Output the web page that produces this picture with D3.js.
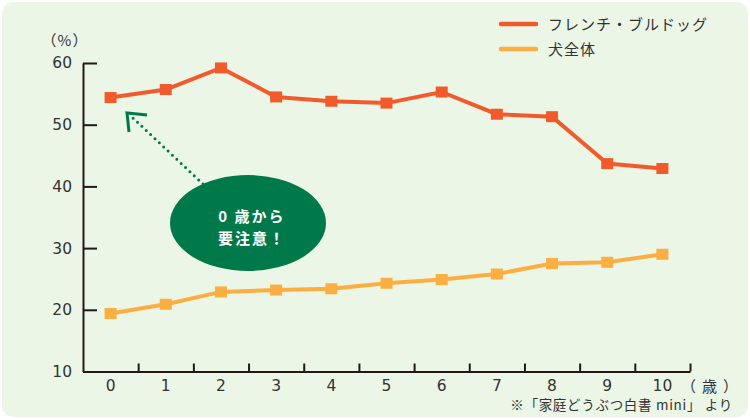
<!DOCTYPE html>
<html>
<head>
<meta charset="utf-8">
<script src="https://cdn.jsdelivr.net/npm/d3@7"></script>
<style>
  body { margin: 0; background: #fff; }
  svg text { font-family: "Noto Sans CJK JP", "DejaVu Sans", sans-serif; }
</style>
</head>
<body>
<div id="chart"></div>
<script>
const ages = ["0", "1", "2", "3", "4", "5", "6", "7", "8", "9", "10"];
const frenchBulldog = [54.4, 55.7, 59.2, 54.5, 53.8, 53.5, 55.3, 51.7, 51.3, 43.7, 42.9];
const allDogs = [19.4, 20.9, 22.9, 23.2, 23.4, 24.3, 24.9, 25.8, 27.5, 27.7, 29.0];
const yTicks = [10, 20, 30, 40, 50, 60];
const seriesNames = ["フレンチ・ブルドッグ", "犬全体"];

const colors = ["#f15a2b", "#fbae42"];

const svg = d3.select("#chart")
    .append("svg")
    .attr("width", 750)
    .attr("height", 419);

// background panel
svg.append("rect")
    .attr("x", 2).attr("y", 2)
    .attr("width", 746).attr("height", 415)
    .attr("rx", 12)
    .style("fill", "#ebf6e7");

const x = d3.scaleBand().domain(ages).range([83, 690]);
const y = d3.scaleLinear().domain([10, 60]).range([371.5, 63]);

// y axis
const yAxis = svg.append("g")
    .attr("transform", "translate(83,0)")
    .call(d3.axisLeft(y).tickValues(yTicks).tickSizeInner(-14).tickSizeOuter(0).tickPadding(11));
yAxis.select(".domain").style("stroke", "#231815").style("stroke-width", 2);
yAxis.selectAll(".tick line").style("stroke", "#231815").style("stroke-width", 2);
yAxis.selectAll(".tick text")
    .style("font-size", "15.5px")
    .style("fill", "#333")
    .style("font-family", "'DejaVu Sans', sans-serif");

svg.append("text")
    .attr("x", 65).attr("y", 46)
    .attr("text-anchor", "middle")
    .style("font-size", "15px")
    .style("letter-spacing", "1px")
    .style("fill", "#333")
    .text("（%）");

// x axis: boundary ticks
const xb = d3.scaleLinear().domain([0, ages.length]).range([83, 690]);
const xTickAxis = svg.append("g")
    .attr("transform", "translate(0,371.5)")
    .call(d3.axisBottom(xb).tickValues(d3.range(1, ages.length + 1)).tickSizeInner(-8).tickSizeOuter(0).tickFormat(""));
xTickAxis.select(".domain").style("stroke", "#231815").style("stroke-width", 2);
xTickAxis.selectAll(".tick line").style("stroke", "#231815").style("stroke-width", 2);

// x labels
const xAxis = svg.append("g")
    .attr("transform", "translate(0,371.5)")
    .call(d3.axisBottom(x).tickSize(0).tickPadding(8.5));
xAxis.select(".domain").remove();
xAxis.selectAll(".tick text")
    .style("font-size", "15.5px")
    .style("fill", "#333")
    .style("font-family", "'DejaVu Sans', sans-serif");

svg.append("text")
    .attr("x", 681).attr("y", 392)
    .style("font-size", "15px")
    .style("letter-spacing", "6px")
    .style("fill", "#333")
    .text("（歳）");

svg.append("text")
    .attr("x", 733).attr("y", 410)
    .attr("text-anchor", "end")
    .style("font-size", "13.5px")
    .style("letter-spacing", "0.7px")
    .style("fill", "#333")
    .text("※「家庭どうぶつ白書 mini」 より");

// lines and markers
const line = d3.line()
    .x((d, i) => x(ages[i]) + x.bandwidth() / 2)
    .y((d) => y(d));

[allDogs, frenchBulldog].forEach((vals, k) => {
    const c = k === 0 ? colors[1] : colors[0];
    svg.append("path")
        .attr("d", line(vals))
        .style("fill", "none")
        .style("stroke", c)
        .style("stroke-width", 4);
    svg.selectAll(null)
        .data(vals)
        .enter()
        .append("rect")
        .attr("x", (d, i) => x(ages[i]) + x.bandwidth() / 2 - 6)
        .attr("y", (d) => y(d) - 5.5)
        .attr("width", 12)
        .attr("height", 11)
        .style("fill", c);
});

// legend
seriesNames.forEach((name, i) => {
    const ly = 24 + i * 25;
    svg.append("line")
        .attr("x1", 501).attr("x2", 536)
        .attr("y1", ly).attr("y2", ly)
        .style("stroke", colors[i])
        .style("stroke-width", 4.5)
        .style("stroke-linecap", "round");
    svg.append("text")
        .attr("x", 548).attr("y", ly + 5.5)
        .style("font-size", "15px")
        .style("letter-spacing", "1px")
        .style("fill", "#333")
        .text(name);
});

// annotation
const green = "#00794a";
svg.append("line")
    .attr("x1", 203).attr("y1", 184)
    .attr("x2", 133).attr("y2", 118)
    .style("stroke", green)
    .style("stroke-width", 3)
    .style("stroke-dasharray", "0 6")
    .style("stroke-linecap", "round");
svg.append("path")
    .attr("d", "M147,115 L127,113 L129,132")
    .style("fill", "none")
    .style("stroke", green)
    .style("stroke-width", 3);

svg.append("ellipse")
    .attr("cx", 248).attr("cy", 223)
    .attr("rx", 78).attr("ry", 48)
    .style("fill", green);

const note = svg.append("text")
    .attr("text-anchor", "middle")
    .style("fill", "#fff")
    .style("font-size", "15px")
    .style("font-weight", "bold")
    .style("letter-spacing", "2px");
note.append("tspan").attr("x", 252).attr("y", 222).text("0 歳から");
note.append("tspan").attr("x", 252).attr("y", 244).text("要注意！");
</script>
</body>
</html>
